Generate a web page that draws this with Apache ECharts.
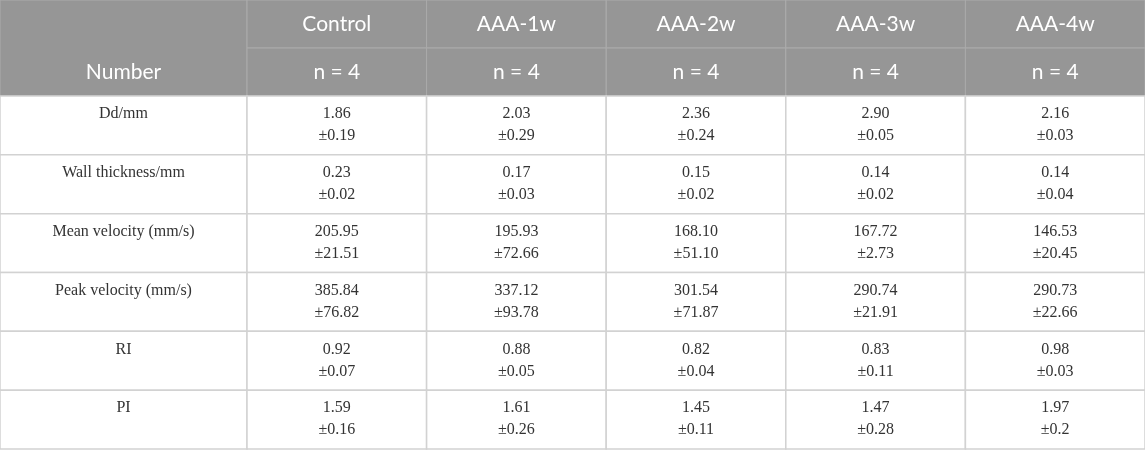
<!DOCTYPE html>
<html lang="en">
<head>
    <meta charset="UTF-8">
    <title>AAA groups - vessel measurements</title>
    <script src="https://cdn.jsdelivr.net/npm/echarts@6/dist/echarts.min.js"></script>
    <style>
        html, body, #table {
            width: 100%;
            height: 100%;
            margin: 0;
            padding: 0;
        }
        body {
            overflow: hidden;
            background: #fff;
        }
    </style>
</head>
<body>
    <div id="table"></div>
    <script>
        // table content
        const groups = ['Control', 'AAA-1w', 'AAA-2w', 'AAA-3w', 'AAA-4w'];
        const sampleSizes = ['n = 4', 'n = 4', 'n = 4', 'n = 4', 'n = 4'];
        const labelHeader = 'Number';
        const metrics = ['Dd/mm', 'Wall thickness/mm', 'Mean velocity (mm/s)', 'Peak velocity (mm/s)', 'RI', 'PI'];
        // one row per metric, one column per group
        const means = [
            ['1.86', '2.03', '2.36', '2.90', '2.16'],
            ['0.23', '0.17', '0.15', '0.14', '0.14'],
            ['205.95', '195.93', '168.10', '167.72', '146.53'],
            ['385.84', '337.12', '301.54', '290.74', '290.73'],
            ['0.92', '0.88', '0.82', '0.83', '0.98'],
            ['1.59', '1.61', '1.45', '1.47', '1.97']
        ];
        const sds = [
            ['0.19', '0.29', '0.24', '0.05', '0.03'],
            ['0.02', '0.03', '0.02', '0.02', '0.04'],
            ['21.51', '72.66', '51.10', '2.73', '20.45'],
            ['76.82', '93.78', '71.87', '21.91', '22.66'],
            ['0.07', '0.05', '0.04', '0.11', '0.03'],
            ['0.16', '0.26', '0.11', '0.28', '0.2']
        ];

        const HEAD_BG = '#969696';
        const HEAD_LINE = '#ababab';
        const BODY_LINE = '#d2d2d2';
        const HEAD_FONT = 'Lato, "Open Sans", sans-serif';
        const BODY_FONT = '"Liberation Serif", "DejaVu Serif", serif';

        // build cells: [col, row, text]
        const headLabelCells = [[0, 0, labelHeader]];
        const headGroupCells = [];
        groups.forEach((g, i) => {
            headGroupCells.push([i, 0, g]);
            headGroupCells.push([i, 1, sampleSizes[i]]);
        });
        const bodyLabelCells = metrics.map((m, j) => [0, j, m]);
        const bodyValueCells = [];
        metrics.forEach((m, j) => {
            groups.forEach((g, i) => {
                bodyValueCells.push([i, j, means[j][i] + '\n±' + sds[j][i]]);
            });
        });

        // draws one cell: box from the axis band, text inside
        function cellRenderer(cells, opts) {
            return function (params, api) {
                const c = api.coord([api.value(0), api.value(1)]);
                const s = api.size([1, 1]);
                const x0 = c[0] - s[0] / 2;
                const y0 = c[1] - s[1] / 2;
                const text = cells[params.dataIndex][2];
                return {
                    type: 'group',
                    children: [
                        {
                            type: 'rect',
                            shape: { x: x0, y: y0, width: s[0], height: s[1] },
                            style: { fill: opts.fill, stroke: opts.stroke, lineWidth: opts.lineWidth }
                        },
                        {
                            type: 'text',
                            x: c[0],
                            y: opts.top != null ? y0 + opts.top : c[1] + (opts.shift || 0),
                            style: {
                                text: text,
                                fill: opts.color,
                                font: opts.font,
                                fontSize: opts.size,
                                fontFamily: opts.family,
                                lineHeight: opts.lineHeight,
                                align: 'center',
                                verticalAlign: opts.top != null ? 'top' : 'middle'
                            }
                        }
                    ]
                };
            };
        }

        const headStyle = { fill: HEAD_BG, stroke: HEAD_LINE, lineWidth: 1, color: '#ffffff', size: 21, family: HEAD_FONT };
        const bodyStyle = { fill: '#ffffff', stroke: BODY_LINE, lineWidth: 1.5, color: '#333333', size: 16, family: BODY_FONT, lineHeight: 22, top: 7 };

        const chart = echarts.init(document.getElementById('table'));

        const option = {
            animation: false,
            grid: [
                { left: 0, top: 0, width: 247, height: 96 },
                { left: 247, top: 0, right: 0, height: 96 },
                { left: 0, top: 96, width: 247, height: 353 },
                { left: 247, top: 96, right: 0, height: 353 }
            ],
            xAxis: [
                { type: 'category', gridIndex: 0, data: [labelHeader], show: false },
                { type: 'category', gridIndex: 1, data: groups, show: false },
                { type: 'category', gridIndex: 2, data: ['label'], show: false },
                { type: 'category', gridIndex: 3, data: groups, show: false }
            ],
            yAxis: [
                { type: 'category', gridIndex: 0, data: ['head'], inverse: true, show: false },
                { type: 'category', gridIndex: 1, data: ['group', 'n'], inverse: true, show: false },
                { type: 'category', gridIndex: 2, data: metrics, inverse: true, show: false },
                { type: 'category', gridIndex: 3, data: metrics, inverse: true, show: false }
            ],
            series: [
                {
                    type: 'custom', xAxisIndex: 0, yAxisIndex: 0, silent: true,
                    data: headLabelCells.map(d => [d[0], d[1]]),
                    renderItem: cellRenderer(headLabelCells, Object.assign({}, headStyle, { shift: 24 }))
                },
                {
                    type: 'custom', xAxisIndex: 1, yAxisIndex: 1, silent: true,
                    data: headGroupCells.map(d => [d[0], d[1]]),
                    renderItem: cellRenderer(headGroupCells, headStyle)
                },
                {
                    type: 'custom', xAxisIndex: 2, yAxisIndex: 2, silent: true,
                    data: bodyLabelCells.map(d => [d[0], d[1]]),
                    renderItem: cellRenderer(bodyLabelCells, bodyStyle)
                },
                {
                    type: 'custom', xAxisIndex: 3, yAxisIndex: 3, silent: true,
                    data: bodyValueCells.map(d => [d[0], d[1]]),
                    renderItem: cellRenderer(bodyValueCells, bodyStyle)
                }
            ]
        };

        chart.setOption(option);
        window.addEventListener('resize', function () {
            chart.resize();
        });
    </script>
</body>
</html>
